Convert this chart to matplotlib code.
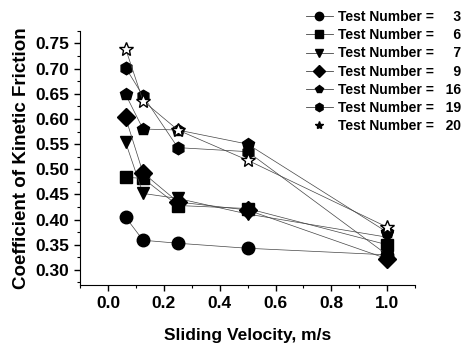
import matplotlib
matplotlib.use("Agg")
from matplotlib import pyplot as plt
from matplotlib.lines import Line2D
from matplotlib.ticker import MultipleLocator

plt.rcParams["font.family"] = ["Liberation Sans", "DejaVu Sans"]
plt.rcParams["font.weight"] = "bold"

velocity = [0.0625, 0.125, 0.25, 0.5, 1.0]
test_ids = [3, 6, 7, 9, 16, 19, 20]
t3 = [0.405, 0.359, 0.353, 0.343, 0.330]
t6 = [0.484, 0.482, 0.428, 0.422, 0.350]
t7 = [0.554, 0.452, 0.442, 0.411, 0.365]
t9 = [0.603, 0.493, 0.435, 0.419, 0.322]
t16 = [0.649, 0.580, 0.578, 0.550, 0.375]
t19 = [0.702, 0.646, 0.543, 0.535, 0.330]
t20 = [0.740, 0.636, 0.578, 0.518, 0.385]
series = [t3, t6, t7, t9, t16, t19, t20]
markers = ["o", "s", "v", "D", "p", "h", "*"]

fig = plt.figure(figsize=(4.69, 3.51), dpi=100)
ax = fig.add_axes([0.171, 0.188, 0.714, 0.724])

handles = []
for tid, ys, m in zip(test_ids, series, markers):
    ms = 9 if m != "*" else 10
    face = "black" if m != "*" else "white"
    ax.plot(velocity, ys, "-", color="#444444", lw=0.5, marker=m, ms=ms,
            mfc=face, mec="black", mew=1.0)
    num = f"{tid:>3d}".replace(" ", "  ")
    handles.append(Line2D([], [], color="#444444", lw=0.6 if m != "*" else 0,
                          marker=m, ms=6, mfc="black", mec="black",
                          label=f"Test Number = {num}"))

ax.set_xlim(-0.1, 1.1)
ax.set_ylim(0.27, 0.775)
ax.xaxis.set_major_locator(MultipleLocator(0.2))
ax.xaxis.set_minor_locator(MultipleLocator(0.1))
ax.yaxis.set_major_locator(MultipleLocator(0.05))
ax.yaxis.set_minor_locator(MultipleLocator(0.025))
ax.spines["top"].set_visible(False)
ax.spines["right"].set_visible(False)
ax.tick_params(which="major", length=4, width=1, labelsize=12.5, pad=4)
ax.tick_params(which="minor", length=2, width=0.8)
for lab in ax.get_xticklabels() + ax.get_yticklabels():
    lab.set_fontweight("bold")
ax.set_xlabel("Sliding Velocity, m/s", fontsize=12.5, fontweight="bold", labelpad=12)
ax.set_ylabel("Coefficient of Kinetic Friction", fontsize=13.5, fontweight="bold", labelpad=4)

fig.legend(handles=handles, loc="upper right", bbox_to_anchor=(1.0, 0.995),
           frameon=False, prop={"size": 10, "weight": "bold"}, handlelength=2.0,
           handletextpad=0.3, labelspacing=0.3, borderaxespad=0.2)

fig.savefig("out.png", dpi=100)
